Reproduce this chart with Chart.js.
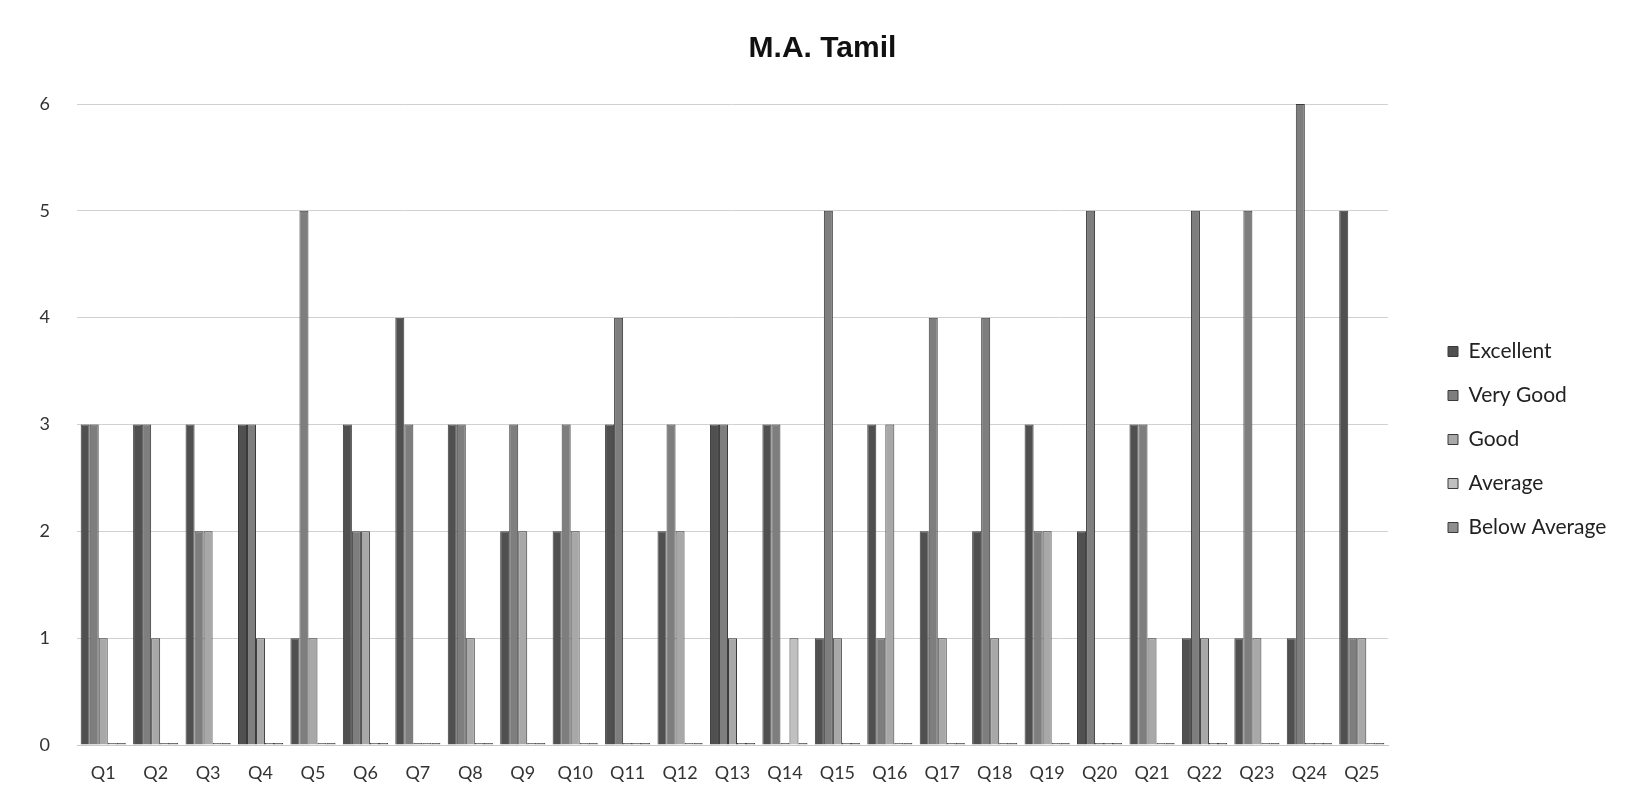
<!DOCTYPE html>
<html>
<head>
<meta charset="utf-8">
<script src="https://cdn.jsdelivr.net/npm/chart.js@4"></script>
<style>
  html, body { margin: 0; padding: 0; background: #fff; }
  #wrap { width: 1625px; height: 809px; }
</style>
</head>
<body>
<div id="wrap"><canvas id="grafico"></canvas></div>
<script>
var labels = ['Q1','Q2','Q3','Q4','Q5','Q6','Q7','Q8','Q9','Q10','Q11','Q12','Q13',
              'Q14','Q15','Q16','Q17','Q18','Q19','Q20','Q21','Q22','Q23','Q24','Q25'];
var excellent    = [3,3,3,3,1,3,4,3,2,2,3,2,3,3,1,3,2,2,3,2,3,1,1,1,5];
var veryGood     = [3,3,2,3,5,2,3,3,3,3,4,3,3,3,5,1,4,4,2,5,3,5,5,6,1];
var good         = [1,1,2,1,1,2,0,1,2,2,0,2,1,0,1,3,1,1,2,0,1,1,1,0,1];
var average      = [0,0,0,0,0,0,0,0,0,0,0,0,0,1,0,0,0,0,0,0,0,0,0,0,0];
var belowAverage = [0,0,0,0,0,0,0,0,0,0,0,0,0,0,0,0,0,0,0,0,0,0,0,0,0];
var yTicks = [0,1,2,3,4,5,6];

function serie(nome, valores, cor) {
    return {
        label: nome,
        data: valores,
        backgroundColor: cor,
        borderColor: '#3a3a3a',
        borderWidth: 1,
        minBarLength: 2,
        categoryPercentage: 0.86,
        barPercentage: 1.0
    };
}

// legenda com largura fixa e um pouco mais abaixo
var ajusteLegenda = {
    id: 'ajusteLegenda',
    beforeInit: function (chart) {
        var fitOriginal = chart.legend.fit;
        chart.legend.fit = function () {
            fitOriginal.bind(chart.legend)();
            this.width = 200;
        };
    },
    afterLayout: function (chart) {
        chart.legend.top += 40;
        chart.legend.bottom += 40;
    }
};

var canvas = document.getElementById('grafico');
var grafico = new Chart(canvas, {
    type: 'bar',
    data: {
        labels: labels,
        datasets: [
            serie('Excellent', excellent, '#505050'),
            serie('Very Good', veryGood, '#7e7e7e'),
            serie('Good', good, '#a8a8a8'),
            serie('Average', average, '#c0c0c0'),
            serie('Below Average', belowAverage, '#8e8e8e')
        ]
    },
    plugins: [ajusteLegenda],
    options: {
        responsive: true,
        maintainAspectRatio: false,
        animation: false,
        layout: { padding: { left: 20, right: 0, top: 0, bottom: 10 } },
        plugins: {
            title: {
                display: true,
                text: 'M.A. Tamil',
                color: '#111',
                font: { family: "'Liberation Sans', Arial, sans-serif", size: 30, weight: 'bold' },
                padding: { top: 31, bottom: 37 }
            },
            legend: {
                position: 'right',
                align: 'center',
                labels: {
                    boxWidth: 10,
                    boxHeight: 10,
                    padding: 23,
                    color: '#222',
                    font: { family: 'Lato, sans-serif', size: 21 }
                }
            },
            tooltip: { enabled: false }
        },
        scales: {
            x: {
                grid: { display: false, drawTicks: false },
                border: { display: true, color: '#c8c8c8' },
                ticks: {
                    color: '#333',
                    padding: 17,
                    font: { family: 'Lato, sans-serif', size: 18 }
                },
                afterFit: function (scale) { scale.height = 54; }
            },
            y: {
                min: 0,
                max: 6,
                afterBuildTicks: function (scale) {
                    scale.ticks = yTicks.map(function (v) { return { value: v }; });
                },
                grid: { color: '#d2d0d0', drawTicks: false },
                border: { display: false },
                ticks: {
                    color: '#333',
                    padding: 27,
                    font: { family: 'Lato, sans-serif', size: 18 }
                },
                afterFit: function (scale) { scale.width = 57; }
            },
            espaco: {
                type: 'linear',
                position: 'right',
                display: true,
                grid: { display: false, drawTicks: false },
                border: { display: false },
                ticks: { display: false },
                afterFit: function (scale) { scale.width = 37; }
            }
        }
    }
});
</script>
</body>
</html>
